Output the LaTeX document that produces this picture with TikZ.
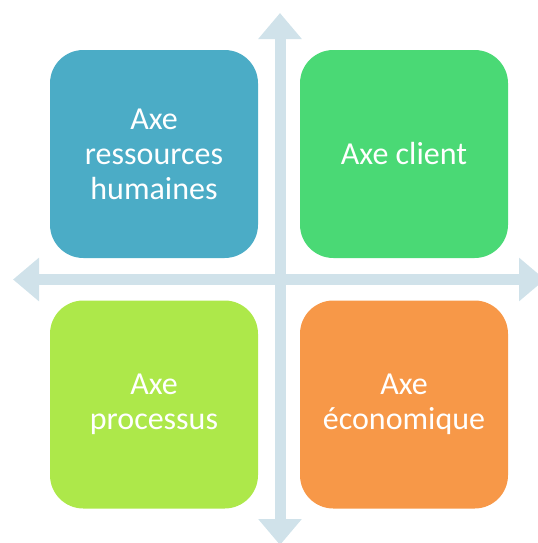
\documentclass[tikz,border=0pt]{standalone}
\usepackage{fontspec}
\usepackage{xcolor}
\usetikzlibrary{arrows.meta}
\setmainfont{Carlito}

\definecolor{rhblue}{HTML}{4BACC6}
\definecolor{clientgreen}{HTML}{4AD975}
\definecolor{procgreen}{HTML}{ADE84A}
\definecolor{ecoorange}{HTML}{F79848}
\definecolor{axisblue}{HTML}{D0E2EA}

\tikzset{
    axebox/.style={fill=#1, rounded corners=25pt, minimum width=156pt,
        minimum height=156pt, inner sep=0pt, text=white, align=center,
        font=\fontsize{24}{26.3}\selectfont},
    axisline/.style={draw=axisblue, line width=8.25pt,
        {Triangle[width=31.5pt,length=19.5pt]}-{Triangle[width=31.5pt,length=19.5pt]}}
}

\begin{document}
\begin{tikzpicture}[x=0.75pt, y=-0.75pt]
    \useasboundingbox (0,0) rectangle (537,543);

    % Axes
    \coordinate (left) at (13,279.5);
    \coordinate (right) at (545,279.5);
    \coordinate (top) at (280,13);
    \coordinate (bottom) at (280,545);
    \draw[axisline] (left) -- (right);
    \draw[axisline] (top) -- (bottom);

    % Quadrants
    \node[axebox=rhblue] (rh) at (154,154) {Axe\\ressources\\humaines};
    \node[axebox=clientgreen] (client) at (404,154) {Axe client};
    \node[axebox=procgreen] (proc) at (154,404.5) {Axe\\processus};
    \node[axebox=ecoorange] (eco) at (404,404.5) {Axe\\économique};
\end{tikzpicture}
\end{document}
